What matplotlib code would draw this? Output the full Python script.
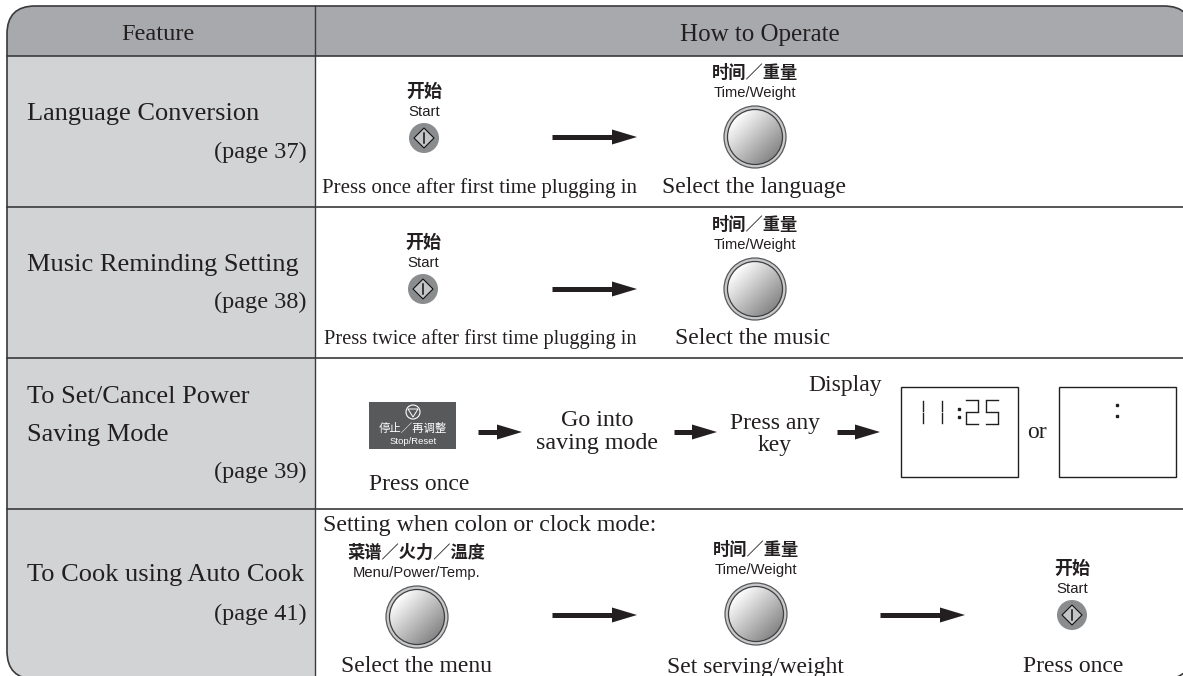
#!/usr/bin/python3
import numpy as np
import matplotlib
matplotlib.use('Agg')
import matplotlib.pyplot as plt
from matplotlib.patches import FancyBboxPatch, Rectangle, Circle, Polygon

SERIF = 'Liberation Serif'
SANS = 'Liberation Sans'
CJK = ['Noto Sans CJK SC', 'DejaVu Sans']

# texts of the table
headers = ['Feature', 'How to Operate']
features = [['Language Conversion'], ['Music Reminding Setting'],
            ['To Set/Cancel Power', 'Saving Mode'], ['To Cook using Auto Cook']]
pages = ['(page 37)', '(page 38)', '(page 39)', '(page 41)']
start_label = ['开始', 'Start']
time_label = ['时间／重量', 'Time/Weight']
menu_label = ['菜谱／火力／温度', 'Menu/Power/Temp.']
stop_label = ['停止／再调整', 'Stop/Reset']
clock_digits = '11:25'
# seven segment table: a top, b upper right, c lower right, d bottom, e lower left, f upper left, g middle
segments = {'1': 'bc', '2': 'abged', '5': 'afgcd'}

fig = plt.figure(figsize=(11.83, 6.76), dpi=100)
ax = fig.add_axes([0, 0, 1, 1])
ax.set_xlim(0, 1183)
ax.set_ylim(676, 0)
ax.axis('off')

EDGE = '#3a3a3c'
TXT = '#231f20'

# outline of the table, right and bottom go a little past the picture
frame = FancyBboxPatch((7, 6), 1185, 673, boxstyle='round,pad=0,rounding_size=28',
                       fc='white', ec='none', zorder=1, clip_on=False)
ax.add_patch(frame)
head_fill = Rectangle((0, 0), 1200, 56, fc='#a7a9ac', ec='none', zorder=2)
side_fill = Rectangle((0, 56), 315, 630, fc='#d1d3d4', ec='none', zorder=2)
ax.add_patch(head_fill)
ax.add_patch(side_fill)
head_fill.set_clip_path(frame)
side_fill.set_clip_path(frame)
# almost invisible face: with no face agg clips the curves to the canvas and breaks the corner
ax.add_patch(FancyBboxPatch((7, 6), 1185, 673, boxstyle='round,pad=0,rounding_size=28',
                            fc=(1, 1, 1, 0.002), ec=EDGE, lw=1.2, zorder=5, clip_on=False))
ax.plot([315, 315], [6, 676], color=EDGE, lw=1.0, zorder=5)
for y in [56, 207, 358, 509]:
    ax.plot([7, 1183], [y, y], color=EDGE, lw=1.2, zorder=5)


def serif(x, y, s, ha='center', size=17):
    ax.text(x, y + 2, s, family=SERIF, fontsize=size, color=TXT, ha=ha, va='center', zorder=6)


def arrow(x0, x1, y):
    ax.plot([x0, x1 - 22], [y, y], color='#231f20', lw=3.6, solid_capstyle='butt', zorder=6)
    ax.add_patch(Polygon([[x1 - 25, y - 7.5], [x1, y], [x1 - 25, y + 7.5]], fc='#231f20', ec='none', zorder=6))


def start_button(x, y):
    ax.text(x, y - 47, start_label[0], family=CJK, fontweight='bold', fontsize=13, color=TXT,
            ha='center', va='center', zorder=6)
    ax.text(x, y - 26, start_label[1], family=SANS, fontsize=10.8, color=TXT, ha='center', va='center', zorder=6)
    ax.add_patch(Circle((x, y), 15, fc='#8a8c8e', ec='none', zorder=6))
    ax.add_patch(Polygon([[x - 10, y], [x, y - 10], [x + 10, y], [x, y + 10]], fc='#c4c5c7', ec='#111111', lw=0.8, zorder=7))
    ax.plot([x, x], [y - 5, y + 5], color='#111111', lw=1.1, zorder=8)


def knob(x, y, label, r=31):
    ax.text(x, y - 64, label[0], family=CJK, fontweight='bold', fontsize=12.4, color=TXT,
            ha='center', va='center', zorder=6)
    ax.text(x, y - 44, label[1], family=SANS, fontsize=10.6, color=TXT, ha='center', va='center', zorder=6)
    ax.add_patch(Circle((x, y), r, fc='#c8c9cb', ec='#58595b', lw=0.9, zorder=6))
    # diagonal shading from light top left to dark bottom right
    gy, gx = np.mgrid[-1:1:80j, -1:1:80j]
    shade = np.clip(0.76 - 0.17 * (gx + gy), 0, 1)
    im = ax.imshow(shade, cmap='gray', vmin=0, vmax=1, extent=(x - r + 3, x + r - 3, y + r - 3, y - r + 3),
                   zorder=7, interpolation='bilinear', aspect='auto')
    disc = Circle((x, y), r - 3.5, fc='none', ec='#3f3f41', lw=0.9, zorder=8)
    ax.add_patch(disc)
    im.set_clip_path(disc)


def clock(x, top, text):
    w, h = 12, 24
    for ch in text:
        if ch == ':':
            ax.plot([x - 1, x - 1], [top + 9, top + 17], ls='none', marker='s', ms=1.6, color='#231f20', zorder=6)
            x += 5
            continue
        ends = {'a': [(0, 0), (w, 0)], 'b': [(w, 1), (w, h / 2 - 1)], 'c': [(w, h / 2 + 1), (w, h - 1)],
                'd': [(0, h), (w, h)], 'e': [(0, h / 2 + 1), (0, h - 1)], 'f': [(0, 1), (0, h / 2 - 1)],
                'g': [(0, h / 2), (w, h / 2)]}
        for seg in segments[ch]:
            (ax0, ay0), (ax1, ay1) = ends[seg]
            if ch == '1':
                ax0, ax1 = 0, 0
            ax.plot([x + ax0 + 1, x + ax1 + 1], [top + ay0, top + ay1], color='#231f20', lw=1.0, zorder=6)
        x += 19 if ch == '1' else 20


# header and left column
serif(158, 33, headers[0], size=17.5)
serif(760, 33, headers[1], size=18)
serif(27, 112, features[0][0], ha='left', size=19)
serif(307, 150, pages[0], ha='right', size=17.5)
serif(27, 263, features[1][0], ha='left', size=19)
serif(307, 300, pages[1], ha='right', size=17.5)
serif(27, 395, features[2][0], ha='left', size=19)
serif(27, 433, features[2][1], ha='left', size=19)
serif(307, 470, pages[2], ha='right', size=17.5)
serif(27, 573, features[3][0], ha='left', size=19)
serif(307, 612, pages[3], ha='right', size=17.5)

# language row
start_button(424, 138)
arrow(552, 637, 137)
knob(755, 137, time_label)
serif(480, 186, 'Press once after first time plugging in', size=15)
serif(754, 186, 'Select the language')

# music row
start_button(423, 289)
arrow(552, 637, 289)
knob(755, 289, time_label)
serif(480, 337, 'Press twice after first time plugging in', size=14.7)
serif(753, 337, 'Select the music')

# power saving row
ax.add_patch(Rectangle((369, 402), 87, 47, fc='#58595b', ec='none', zorder=6))
ax.add_patch(Circle((413, 412), 7, fc='none', ec='white', lw=0.8, zorder=7))
ax.add_patch(Polygon([[408, 409], [418, 409], [413, 417]], fc='none', ec='white', lw=0.7, zorder=7))
ax.text(413, 428, stop_label[0], family=CJK, fontsize=8.2, color='white', ha='center', va='center', zorder=7)
ax.text(413, 441, stop_label[1], family=SANS, fontsize=6.8, color='white', ha='center', va='center', zorder=7)
arrow(478, 522, 432)
serif(597, 419, 'Go into', size=17.3)
serif(597, 441, 'saving mode', size=17.3)
arrow(674, 717, 432)
serif(775, 421, 'Press any')
serif(775, 443, 'key')
arrow(837, 880, 432)
serif(845, 384, 'Display')
serif(419, 482, 'Press once')
serif(1037, 431, 'or')
ax.add_patch(Rectangle((901, 387), 117, 90, fc='white', ec='#231f20', lw=1.0, zorder=6))
ax.add_patch(Rectangle((1059, 387), 117, 90, fc='white', ec='#231f20', lw=1.0, zorder=6))
clock(922, 400, clock_digits)
ax.plot([1117, 1117], [405, 416], ls='none', marker='s', ms=1.8, color='#231f20', zorder=7)

# auto cook row
serif(323, 524, 'Setting when colon or clock mode:', ha='left', size=17.2)
knob(417, 617, menu_label)
arrow(552, 637, 615)
knob(756, 614, time_label)
arrow(880, 965, 615)
start_button(1072, 615)
serif(417, 665, 'Select the menu')
serif(755, 665, 'Set serving/weight')
serif(1073, 665, 'Press once')

fig.savefig('out.png', dpi=100)
